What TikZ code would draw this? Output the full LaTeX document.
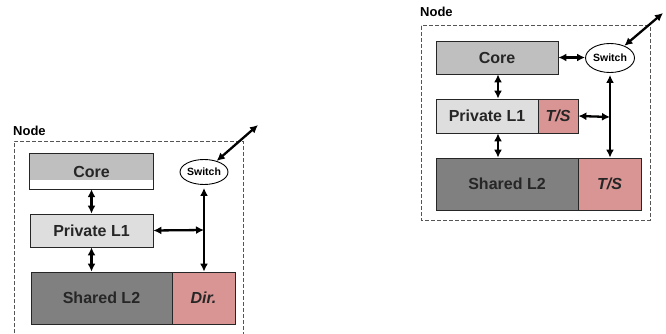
\documentclass[tikz,border=0pt]{standalone}
\usepackage{fontspec}
\setmainfont{Liberation Sans}
\usetikzlibrary{arrows.meta,shapes.geometric}
\definecolor{coregray}{HTML}{BFBFBF}
\definecolor{lonegray}{HTML}{DEDEDE}
\definecolor{ltwogray}{HTML}{808080}
\definecolor{dirpink}{HTML}{D99594}
\definecolor{dashgray}{HTML}{555555}
\tikzset{
  box/.style={draw=black!85, line width=0.8pt, rectangle, inner sep=0pt,
    font=\fontsize{16}{16}\selectfont\bfseries, text=black!85},
  itbox/.style={box, font=\fontsize{16}{16}\selectfont\bfseries\itshape},
  swnode/.style={draw=black, line width=0.9pt, ellipse, inner sep=0pt,
    font=\fontsize{10.5}{10.5}\selectfont\bfseries, fill=white},
  nodebox/.style={draw=dashgray, line width=1pt, dash pattern=on 4pt off 2pt},
  nodelabel/.style={anchor=west, inner sep=0pt, font=\fontsize{13}{13}\selectfont\bfseries},
  arr/.style={line width=2.3pt, {Latex[length=8pt,width=8pt]}-{Latex[length=8pt,width=8pt]}},
}
\begin{document}
\begin{tikzpicture}[x=1pt,y=-1pt]
\useasboundingbox (0,0) rectangle (666,334);
\clip (0,0) rectangle (666,334);

% ---------------- left diagram ----------------
\node[nodelabel] (nlabL) at (13,131) {Node};
\draw[nodebox] (14,345) -- (14,141) -- (243,141) -- (243,345);

\node[fill=white, inner sep=0pt, minimum width=123pt, minimum height=35pt] (coreL) at (91.5,171.5) {};
\fill[coregray] (coreL.north west) rectangle (coreL.south east |- 0,180);
\draw[black!85, line width=0.8pt] (coreL.north west) rectangle (coreL.south east);
\node[inner sep=0pt, font=\fontsize{16}{16}\selectfont\bfseries, text=black!85] (coreLt) at (coreL.center) {Core};

\node[box, fill=lonegray, minimum width=123pt, minimum height=33pt] (l1L) at (91.5,230.5) {Private L1};
\node[box, fill=ltwogray, minimum width=141pt, minimum height=52pt] (l2L) at (101.5,298) {Shared L2};
\node[itbox, fill=dirpink, minimum width=63pt, minimum height=52pt] (dirL) at (203.5,298) {Dir.};
\node[swnode, minimum width=48pt, minimum height=25pt] (swL) at (204,172) {Switch};

\coordinate (jL) at (204,230);
\coordinate (outL) at (258,125);
\draw[arr] (coreL.south) -- (l1L.north);
\draw[arr] (l1L.south) -- (l1L.south |- l2L.north);
\draw[arr] (l1L.east) -- (jL);
\draw[arr, shorten <=3pt] (swL.south) -- (swL.south |- dirL.north);
\draw[arr] (swL) -- (outL);

% ---------------- right diagram ----------------
\node[nodelabel] (nlabR) at (420,12) {Node};
\draw[nodebox] (421,26) rectangle (650,220);

\node[box, fill=coregray, minimum width=122pt, minimum height=33pt] (coreR) at (497,57.5) {Core};
\node[swnode, minimum width=49pt, minimum height=29pt] (swR) at (610,58) {Switch};
\node[box, fill=lonegray, minimum width=102pt, minimum height=34pt] (l1R) at (487,116) {Private L1};
\node[itbox, fill=dirpink, minimum width=40pt, minimum height=34pt] (ts1R) at (558,116) {T/S};
\node[box, fill=ltwogray, minimum width=142pt, minimum height=52pt] (l2R) at (507,184) {Shared L2};
\node[itbox, fill=dirpink, minimum width=63pt, minimum height=52pt] (ts2R) at (609.5,184) {T/S};

\coordinate (jR) at (610,117);
\coordinate (outR) at (663,13);
\coordinate (vR) at (498,0);
\draw[arr] (coreR.east) -- (coreR.east -| swR.west);
\draw[arr] (coreR.south -| vR) -- (l1R.north -| vR);
\draw[arr] (l1R.south -| vR) -- (l2R.north -| vR);
\draw[arr] (ts1R.east) -- (jR);
\draw[arr, shorten <=2pt] (swR.south) -- (swR.south |- ts2R.north);
\draw[arr] (swR) -- (outR);
\end{tikzpicture}
\end{document}
